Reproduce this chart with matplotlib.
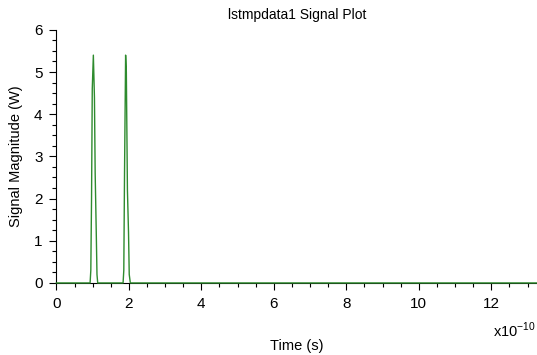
import matplotlib.pyplot as plt
from matplotlib.ticker import MultipleLocator

plt.rcParams['font.family'] = ['Liberation Sans', 'DejaVu Sans']

# time in units of 1e-10 s, magnitude in W
time = [0.0, 0.93, 0.95, 0.97, 0.99, 1.02, 1.05, 1.07, 1.10, 1.12, 1.14,
        1.84, 1.86, 1.88, 1.91, 1.93, 1.96, 1.99, 2.01, 2.04, 13.3]
magnitude = [0.0, 0.0, 0.3, 2.0, 4.6, 5.4, 4.4, 2.6, 1.2, 0.2, 0.0,
             0.0, 0.3, 2.6, 5.4, 5.0, 2.2, 1.2, 0.2, 0.0, 0.0]

fig = plt.figure(figsize=(5.37, 3.55), dpi=100)
ax = fig.add_axes([0.105, 0.203, 0.895, 0.713])
ax.plot(time, magnitude, color='#2e8b2e', lw=1.0, zorder=3, clip_on=False)

ax.set_xlim(0, 13.26)
ax.set_ylim(0, 6)
ax.xaxis.set_major_locator(MultipleLocator(2))
ax.xaxis.set_minor_locator(MultipleLocator(0.5))
ax.yaxis.set_major_locator(MultipleLocator(1))
ax.yaxis.set_minor_locator(MultipleLocator(0.25))
for s in ['top', 'right']:
    ax.spines[s].set_visible(False)
ax.tick_params(which='major', direction='out', length=5, width=0.8, labelsize=11, pad=5)
ax.tick_params(which='minor', direction='out', length=3, width=0.8)

ax.set_title('lstmpdata1 Signal Plot', fontsize=10, pad=8)
ax.set_xlabel('Time (s)', fontsize=10.5, labelpad=20)
ax.set_ylabel('Signal Magnitude (W)', fontsize=10.5, labelpad=8)
fig.text(0.998, 0.052, r'x10$^{\mathregular{-10}}$', ha='right', va='baseline', fontsize=10.5)

fig.savefig('out.png', dpi=100)
